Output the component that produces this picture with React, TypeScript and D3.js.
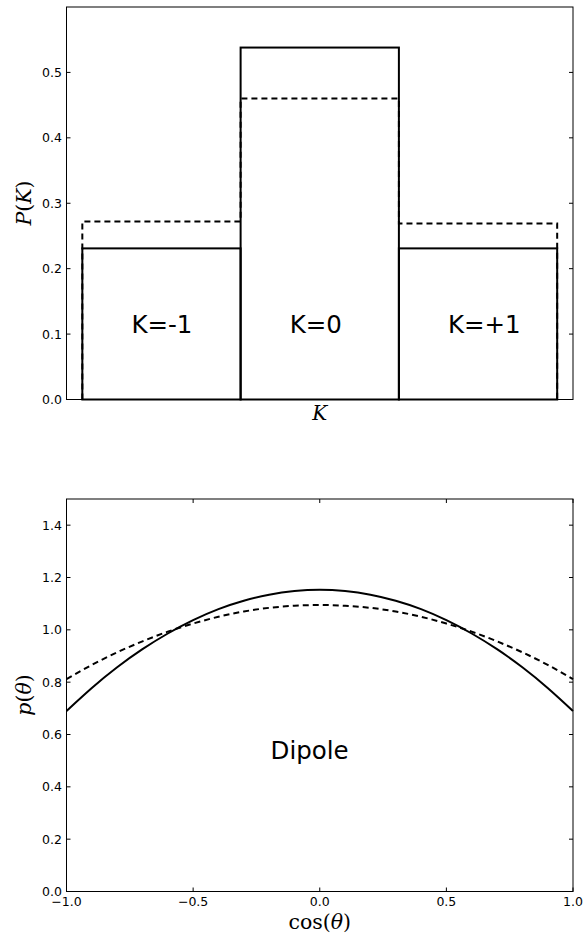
import { useMemo } from 'react';
import * as d3 from 'd3';

// top panel: P(K) histogram
const kValues = [-1, 0, 1];
const kLabels = ['K=-1', 'K=0', 'K=+1'];
const pSolid = [0.231, 0.538, 0.231];
const pDashed = [0.272, 0.46, 0.269];
const topYTicks = [0.0, 0.1, 0.2, 0.3, 0.4, 0.5];

// bottom panel: dipole p(theta)
const cosTheta = [-1.0, -0.9, -0.8, -0.7, -0.6, -0.5, -0.4, -0.3, -0.2, -0.1, 0.0, 0.1, 0.2, 0.3, 0.4, 0.5, 0.6, 0.7, 0.8, 0.9, 1.0];
const pThetaSolid = [0.69, 0.778, 0.857, 0.926, 0.986, 1.037, 1.079, 1.111, 1.134, 1.148, 1.153, 1.148, 1.134, 1.111, 1.079, 1.037, 0.986, 0.926, 0.857, 0.778, 0.69];
const pThetaDashed = [0.812, 0.866, 0.914, 0.956, 0.993, 1.024, 1.05, 1.07, 1.084, 1.092, 1.095, 1.092, 1.084, 1.07, 1.05, 1.024, 0.993, 0.956, 0.914, 0.866, 0.812];
const botYTicks = [0.0, 0.2, 0.4, 0.6, 0.8, 1.0, 1.2, 1.4];
const botXTicks = [-1.0, -0.5, 0.0, 0.5, 1.0];

const W = 587;
const H = 934;
const left = 66.5;
const right = 573;
const tickFont = '"DejaVu Sans", sans-serif';
const mathFont = '"DejaVu Serif", "Liberation Serif", serif';

const fmt = (v: number) => (v < 0 ? '\u2212' : '') + Math.abs(v).toFixed(1);

export default function App() {
    const top = useMemo(() => {
        const x = d3.scaleLinear().domain([-1.6, 1.6]).range([left, right]);
        const y = d3.scaleLinear().domain([0, 0.6]).range([399.5, 7]);
        // solid bars as outlines
        const bars = kValues.map((k, i) => ({
            x0: x(k - 0.5),
            x1: x(k + 0.5),
            y0: y(0),
            y1: y(pSolid[i]),
        }));
        // dashed step outline
        const pts: [number, number][] = [[x(kValues[0] - 0.5), y(0)]];
        kValues.forEach((k, i) => {
            pts.push([x(k - 0.5), y(pDashed[i])]);
            pts.push([x(k + 0.5), y(pDashed[i])]);
        });
        pts.push([x(kValues[kValues.length - 1] + 0.5), y(0)]);
        const step = d3.line()(pts) || '';
        return { x, y, bars, step };
    }, []);

    const bot = useMemo(() => {
        const x = d3.scaleLinear().domain([-1, 1]).range([left, right]);
        const y = d3.scaleLinear().domain([0, 1.5]).range([891.5, 499]);
        const line = d3.line<number>()
            .x((_, i) => x(cosTheta[i]))
            .y((d) => y(d))
            .curve(d3.curveNatural);
        return { x, y, solid: line(pThetaSolid) || '', dashed: line(pThetaDashed) || '' };
    }, []);

    return (
        <div style={{ position: 'absolute', left: 0, top: 0, width: W, height: H, background: 'white' }}>
            <svg width={W} height={H} style={{ display: 'block' }}>
                {/* ---------- top panel ---------- */}
                <g>
                    {top.bars.map((b, i) => (
                        <rect key={i} x={b.x0} y={b.y1} width={b.x1 - b.x0} height={b.y0 - b.y1} fill="none" stroke="black" strokeWidth={2} />
                    ))}
                    <path d={top.step} fill="none" stroke="black" strokeWidth={2} strokeDasharray="6 4" />
                    {kValues.map((k, i) => (
                        <text key={k} x={top.x(k - 0.19)} y={333} textAnchor="start" fontFamily={tickFont} fontSize={24.5}>{kLabels[i]}</text>
                    ))}
                    <rect x={left} y={7} width={right - left} height={399.5 - 7} fill="none" stroke="black" strokeWidth={1} />
                    {topYTicks.map((t) => (
                        <g key={t}>
                            <line x1={left} x2={left + 4} y1={top.y(t)} y2={top.y(t)} stroke="black" />
                            <line x1={right - 4} x2={right} y1={top.y(t)} y2={top.y(t)} stroke="black" />
                            <text x={62} y={top.y(t) + 4.5} textAnchor="end" fontFamily={tickFont} fontSize={12.5}>{t.toFixed(1)}</text>
                        </g>
                    ))}
                    <text x={(left + right) / 2} y={420} textAnchor="middle" fontFamily={mathFont} fontStyle="italic" fontSize={20}>K</text>
                    <text transform={`translate(31, 203) rotate(-90)`} textAnchor="middle" fontFamily={mathFont} fontSize={20.5}>
                        <tspan fontStyle="italic">P</tspan>(<tspan fontStyle="italic">K</tspan>)
                    </text>
                </g>

                {/* ---------- bottom panel ---------- */}
                <g>
                    <path d={bot.solid} fill="none" stroke="black" strokeWidth={2} />
                    <path d={bot.dashed} fill="none" stroke="black" strokeWidth={2} strokeDasharray="6 4" />
                    <text x={bot.x(-0.2) + 1.5} y={759} textAnchor="start" fontFamily={tickFont} fontSize={24.5}>Dipole</text>
                    <rect x={left} y={499} width={right - left} height={891.5 - 499} fill="none" stroke="black" strokeWidth={1} />
                    {botYTicks.map((t) => (
                        <g key={t}>
                            <line x1={left} x2={left + 4} y1={bot.y(t)} y2={bot.y(t)} stroke="black" />
                            <line x1={right - 4} x2={right} y1={bot.y(t)} y2={bot.y(t)} stroke="black" />
                            <text x={62} y={bot.y(t) + 4.5} textAnchor="end" fontFamily={tickFont} fontSize={12.5}>{t.toFixed(1)}</text>
                        </g>
                    ))}
                    {botXTicks.map((t) => (
                        <g key={t}>
                            <line x1={bot.x(t)} x2={bot.x(t)} y1={891.5} y2={887.5} stroke="black" />
                            <line x1={bot.x(t)} x2={bot.x(t)} y1={499} y2={503} stroke="black" />
                            <text x={bot.x(t)} y={906} textAnchor="middle" fontFamily={tickFont} fontSize={12.5}>{fmt(t)}</text>
                        </g>
                    ))}
                    <text x={(left + right) / 2} y={929} textAnchor="middle" fontFamily={mathFont} fontSize={20.5}>
                        cos(<tspan fontStyle="italic">θ</tspan>)
                    </text>
                    <text transform={`translate(31, 695) rotate(-90)`} textAnchor="middle" fontFamily={mathFont} fontSize={20.5}>
                        <tspan fontStyle="italic">p</tspan>(<tspan fontStyle="italic">θ</tspan>)
                    </text>
                </g>
            </svg>
        </div>
    );
}
